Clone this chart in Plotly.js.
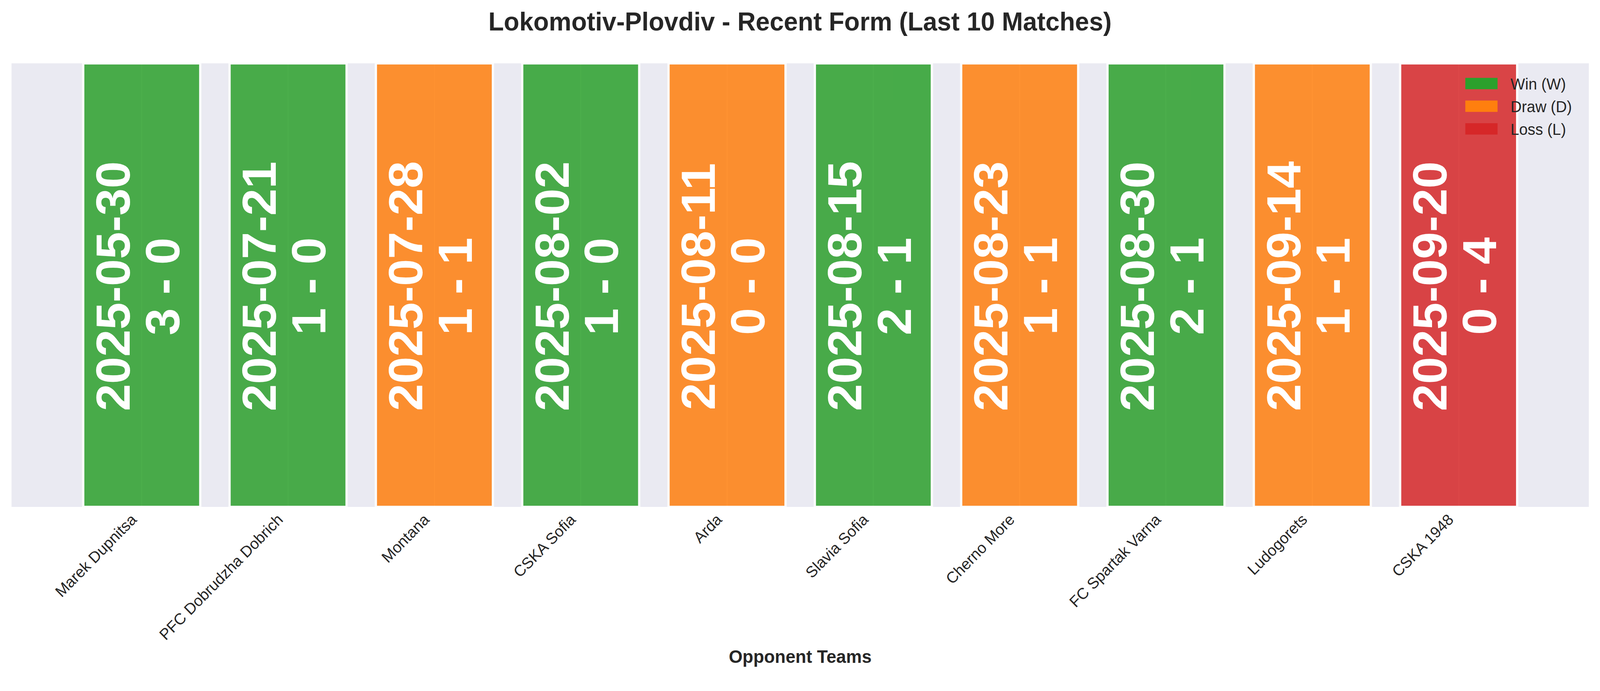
<!DOCTYPE html>
<html>
<head>
<meta charset="utf-8">
<script src="https://cdn.plot.ly/plotly-3.0.1.min.js"></script>
<style>
  html, body { margin: 0; padding: 0; background: #ffffff; overflow: hidden; }
  #chart { width: 4170px; height: 1768px; transform-origin: 0 0; }
</style>
</head>
<body>
<div id="chart"></div>
<script>
/* ============================================================
   DATA – last 10 matches
   ============================================================ */
var teams   = ['Marek Dupnitsa', 'PFC Dobrudzha Dobrich', 'Montana', 'CSKA Sofia', 'Arda',
               'Slavia Sofia', 'Cherno More', 'FC Spartak Varna', 'Ludogorets', 'CSKA 1948'];
var dates   = ['2025-05-30', '2025-07-21', '2025-07-28', '2025-08-02', '2025-08-11',
               '2025-08-15', '2025-08-23', '2025-08-30', '2025-09-14', '2025-09-20'];
var scores  = ['3 - 0', '1 - 0', '1 - 1', '1 - 0', '0 - 0', '2 - 1', '1 - 1', '2 - 1', '1 - 1', '0 - 4'];
var results = ['W', 'W', 'D', 'W', 'D', 'W', 'D', 'W', 'D', 'L'];
var heights = [1, 1, 1, 1, 1, 1, 1, 1, 1, 1];

var resultNames  = { W: 'Win (W)', D: 'Draw (D)', L: 'Loss (L)' };
var resultColors = { W: '#2ca02c', D: '#ff7f0e', L: '#d62728' };

var FONT = 'Liberation Sans, Arial, sans-serif';
var INK  = '#262626';
var FIG_W = 4170, FIG_H = 1768;

/* the window may be narrower than the figure: squeeze it to fit */
var chartDiv = document.getElementById('chart');
if (window.innerWidth && window.innerWidth < FIG_W) {
  chartDiv.style.transform = 'scaleX(' + (window.innerWidth / FIG_W) + ')';
}

/* ============================================================
   TRACES – one bar trace per result type
   ============================================================ */
var traces = ['W', 'D', 'L'].map(function (r) {
  var xs = [], ys = [];
  results.forEach(function (res, i) {
    if (res === r) { xs.push(teams[i]); ys.push(heights[i]); }
  });
  return {
    type: 'bar', x: xs, y: ys, name: resultNames[r], legendgroup: r,
    width: 0.8, opacity: 0.85,
    marker: { color: resultColors[r], line: { color: '#ffffff', width: 6 } },
    hoverinfo: 'x'
  };
});

/* date + score written inside each bar */
var annotations = [];
teams.forEach(function (t, i) {
  annotations.push({
    x: t, y: 0.5, xref: 'x', yref: 'y', text: dates[i], showarrow: false,
    textangle: -90, xshift: -75, yshift: -3,
    font: { family: FONT, size: 125, color: '#ffffff', weight: 'bold' }
  });
  annotations.push({
    x: t, y: 0.5, xref: 'x', yref: 'y', text: scores[i], showarrow: false,
    textangle: -90, xshift: 54, yshift: -3,
    font: { family: FONT, size: 125, color: '#ffffff', weight: 'bold' }
  });
});

var layout = {
  width: FIG_W, height: FIG_H,
  font: { family: FONT, color: INK },
  paper_bgcolor: '#ffffff', plot_bgcolor: '#eaeaf2',
  margin: { t: 162, r: 29, b: 471, l: 30 },
  barmode: 'overlay',
  title: {
    text: '<b>Lokomotiv-Plovdiv - Recent Form (Last 10 Matches)</b>',
    font: { family: FONT, size: 66, color: INK },
    x: 0.5, xanchor: 'center', y: 0.969, yanchor: 'middle'
  },
  xaxis: {
    type: 'category', categoryorder: 'array', categoryarray: teams,
    range: [-0.89, 9.89],
    showgrid: true, gridcolor: '#ffffff', gridwidth: 3,
    zeroline: false, showline: false, ticks: '',
    tickangle: -45, ticklabelshift: -25,
    tickfont: { family: FONT, size: 40, color: INK },
    title: { text: '<b>Opponent Teams</b>', standoff: 18,
             font: { family: FONT, size: 46, color: INK } }
  },
  yaxis: {
    range: [0, 1], showgrid: false, zeroline: false, showline: false,
    showticklabels: false, ticks: ''
  },
  showlegend: true,
  legend: {
    x: 0.9134, xanchor: 'left', y: 0.983, yanchor: 'top',
    bgcolor: 'rgba(0,0,0,0)', borderwidth: 0,
    itemwidth: 142, tracegroupgap: 3,
    font: { family: FONT, size: 40, color: INK }
  },
  annotations: annotations
};

Plotly.newPlot(chartDiv, traces, layout, { displayModeBar: false, staticPlot: true }).then(function (gd) {
  /* wide, solid legend swatches like the original */
  gd.querySelectorAll('.legend .legendpoints path').forEach(function (p) {
    p.setAttribute('d', 'M42,14.5H-42V-14.5H42Z');
    p.style.strokeWidth = '0px';
  });
  gd.querySelectorAll('.legend .layers').forEach(function (l) { l.style.opacity = 1; });
});
</script>
</body>
</html>
